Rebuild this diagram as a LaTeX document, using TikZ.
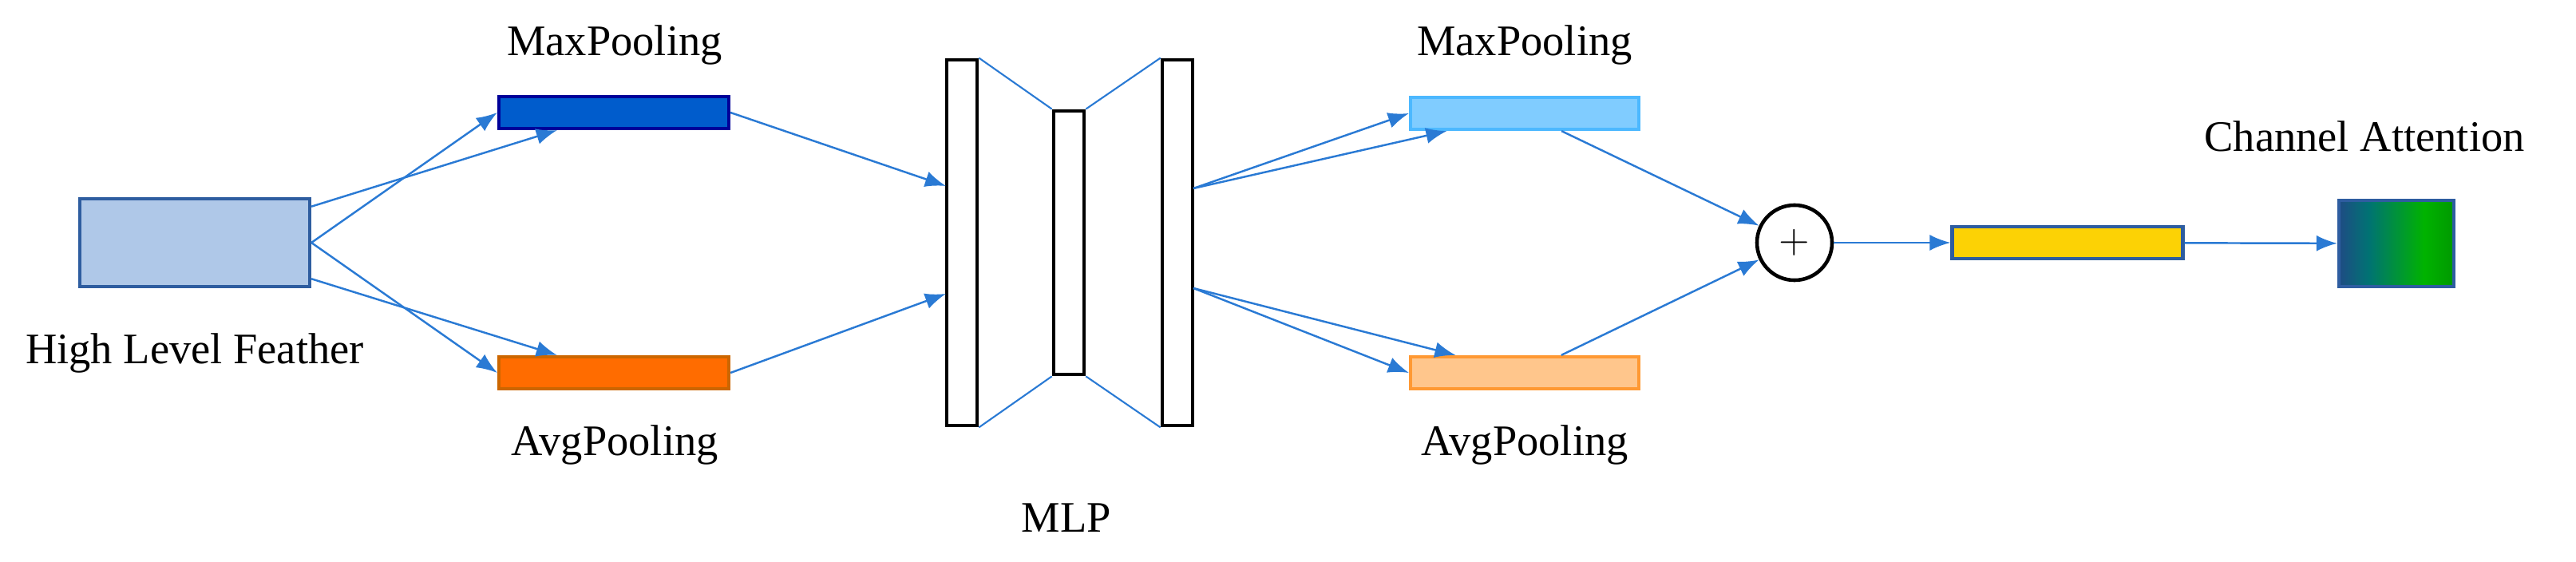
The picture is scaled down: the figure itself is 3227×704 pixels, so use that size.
\documentclass[tikz,border=0pt]{standalone}
\usepackage{fontspec}
\setmainfont{Liberation Serif}
\usetikzlibrary{arrows.meta}
\definecolor{arrowblue}{HTML}{2A7AD4}
\definecolor{lightfill}{HTML}{AFC8E8}
\definecolor{darkedge}{HTML}{2E5DA0}
\pgfdeclarehorizontalshading{attshade}{100bp}{
  color(0bp)=(violet!70!blue); color(38bp)=(teal!90!black);
  color(62bp)=(green!70!black); color(75bp)=(green!60!black); color(100bp)=(red)}
\begin{document}
\begin{tikzpicture}
		[
			x=0.01cm, y=-0.01cm,
			every node/.style={font=\fontsize{15.5}{18}\selectfont},
			box/.style={rectangle, draw, line width=1.2pt, inner sep=0pt},
			bar/.style={rectangle, draw=black, line width=1.3pt, fill=white, inner sep=0pt, minimum width=0.38cm},
			link/.style={arrowblue, line width=0.7pt, -{Latex[length=2.6mm,width=2mm]}},
			thin/.style={arrowblue, line width=0.6pt},
		]
		\useasboundingbox (0,0) rectangle (3227,704);

		% Boxes
		\foreach \name/\col/\edge/\x/\y/\w/\h in
		{
			hl/lightfill/darkedge/244/304/288/110,
			mpa/{blue!55!cyan!80!black}/{blue!60!black}/769/141/288/40,
			apa/{orange!85!red}/{orange!80!black}/769/467/288/40,
			mpb/{blue!40!cyan!50!white}/{blue!40!cyan!70!white}/1910/142/286/40,
			apb/{orange!45!white}/{orange!80!white}/1910/467/286/40,
			ca/{yellow!70!orange}/darkedge/2590/304/289/40
		}
			\node[box, fill=\col, draw=\edge, minimum width=\w*0.01cm, minimum height=\h*0.01cm] (\name) at (\x,\y) {};

		\node[box, draw=darkedge, minimum width=1.44cm, minimum height=1.08cm, shading=attshade] (att) at (3002,305) {};
		\node[circle, draw=black, line width=1.3pt, minimum size=0.94cm, inner sep=0pt] (plus) at (2248,304) {$+$};

		% MLP
		\node[bar, minimum height=4.58cm] (ma) at (1205,304) {};
		\node[bar, minimum height=3.30cm] (mb) at (1339,304) {};
		\node[bar, minimum height=4.58cm] (mc) at (1475,304) {};
		\coordinate (ina) at (1185,233);
		\coordinate (inb) at (1185,368);
		\coordinate (outa) at (1495,236);
		\coordinate (outb) at (1495,361);

		% Labels
		\foreach \pos/\text in
		{
			{(244,442)}/High Level Feather,
			{(770,56)}/MaxPooling,
			{(770,557)}/AvgPooling,
			{(1336,649)}/MLP,
			{(1910,56)}/MaxPooling,
			{(1910,557)}/AvgPooling,
			{(2962,171)}/Channel Attention
		}
			\node at \pos {\text};

		% Connectors
		\foreach \u/\v in {hl/mpa, hl/apa, outa/mpb, outb/apb, mpb/plus, apb/plus}
			\draw[link] (\u) -- (\v);
		\draw[link] (hl.east) -- (mpa.west);
		\draw[link] (hl.east) -- (apa.west);
		\draw[link] (mpa.east) -- (ina);
		\draw[link] (apa.east) -- (inb);
		\draw[link] (outa) -- (mpb.west);
		\draw[link] (outb) -- (apb.west);
		\draw[link] (plus) -- (ca);
		\draw[link] (ca) -- (att);
		\draw[thin] (ma.north east) -- (mb.north west);
		\draw[thin] (mb.north east) -- (mc.north west);
		\draw[thin] (ma.south east) -- (mb.south west);
		\draw[thin] (mb.south east) -- (mc.south west);

		\end{tikzpicture}
\end{document}
